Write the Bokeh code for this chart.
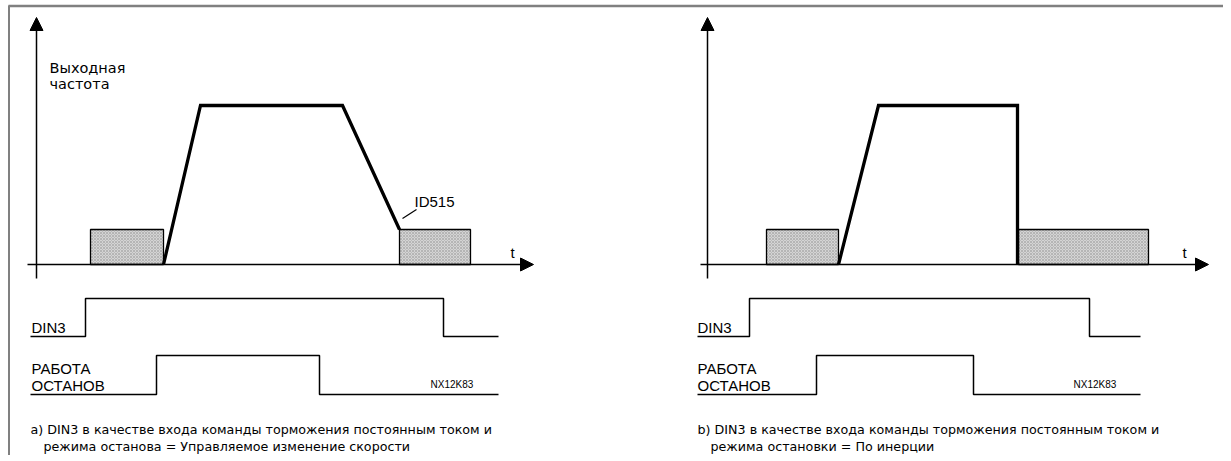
from bokeh.plotting import figure
from bokeh.models import Range1d, Arrow, NormalHead
from bokeh.core.properties import value
from bokeh.embed import file_html
from bokeh.resources import INLINE

FONT = "Liberation Sans"
FONT2 = "DejaVu Sans"

# ---- diagram data (page pixel coordinates, y grows downward) ----
panel_axis_x = [36, 707]
axis_y0 = 264          # time axis level
axis_top = 17          # arrow tip of frequency axis
axis_bottom = 278
xaxis_start = [27, 700]
xaxis_end = [533, 1208]

# output-frequency profile, panel a (controlled ramp) and b (coasting)
freq_a_x = [163, 200, 342, 399]
freq_a_y = [264, 105, 105, 229]
freq_b_x = [838, 878, 1017, 1017]
freq_b_y = [264, 105, 105, 264]

# DC brake boxes
brake_left = [90, 399, 766, 1018]
brake_right = [163, 470, 838, 1148]
brake_top = [229, 229, 229, 229]
brake_bottom = [264, 264, 264, 264]

# DIN3 signal steps
din3_a_x = [30, 85, 85, 443, 443, 498]
din3_b_x = [697, 749, 749, 1089, 1089, 1140]
din3_y = [336, 336, 298, 298, 336, 336]

# RUN/STOP signal steps
run_a_x = [30, 156, 156, 319, 319, 498]
run_b_x = [697, 816, 816, 973, 973, 1140]
run_y = [394, 394, 355, 355, 394, 394]

label_x = [31, 697]
caption_x = [30, 697]
caption2_x = [43, 710]
code_x = [430, 1073]
t_x = [510, 1182]

captions1 = ["a) DIN3 в качестве входа команды торможения постоянным током и",
             "b) DIN3 в качестве входа команды торможения постоянным током и"]
captions2 = ["режима останова = Управляемое изменение скорости",
             "режима остановки = По инерции"]

W, H = 1223, 455
p = figure(width=W, height=H, output_backend="svg", toolbar_location=None,
           x_range=Range1d(0, W), y_range=Range1d(H, 0),
           min_border=0)
p.axis.visible = False
p.grid.visible = False
p.outline_line_color = None
p.background_fill_color = "white"

# frame (top and left)
p.line([8, 1223], [5.5, 5.5], line_color="#808080", line_width=2.5)
p.line([8.5, 8.5], [5, 455], line_color="#808080", line_width=2)

# brake boxes
p.quad(left=brake_left, right=brake_right, top=brake_top, bottom=brake_bottom,
       fill_color="#d4d4d4", hatch_pattern="diagonal_cross", hatch_color="#969696",
       hatch_scale=3, hatch_weight=0.5, line_color="black", line_width=1.3)

for i in range(2):
    ax = panel_axis_x[i]
    p.line([ax, ax], [axis_bottom, axis_top + 10], line_color="black", line_width=1.5)
    p.add_layout(Arrow(end=NormalHead(size=13, fill_color="black", line_color="black"),
                       x_start=ax, y_start=axis_top + 12, x_end=ax, y_end=axis_top,
                       line_color="black", line_width=1.5))
    p.line([xaxis_start[i], xaxis_end[i] - 10], [axis_y0, axis_y0], line_color="black", line_width=1.5)
    p.add_layout(Arrow(end=NormalHead(size=13, fill_color="black", line_color="black"),
                       x_start=xaxis_end[i] - 12, y_start=axis_y0, x_end=xaxis_end[i], y_end=axis_y0,
                       line_color="black", line_width=1.5))
    p.text(x=[t_x[i]], y=[252], text=["t"], text_font=value(FONT), text_font_size="15px",
           text_baseline="alphabetic", text_color="black")

# frequency profiles
p.line(freq_a_x, freq_a_y, line_color="black", line_width=3.3, line_join="miter")
p.line(freq_b_x, freq_b_y, line_color="black", line_width=3.3, line_join="miter")

# signals
for xs in (din3_a_x, din3_b_x):
    p.line(xs, din3_y, line_color="black", line_width=1.5)
for xs in (run_a_x, run_b_x):
    p.line(xs, run_y, line_color="black", line_width=1.5)

# labels
p.text(x=[49, 49], y=[67, 83], text=["Выходная", "частота"], text_font=value(FONT2),
       text_font_size="14.5px", text_baseline="alphabetic", text_color="black")
p.line([402, 416], [218, 209], line_color="black", line_width=1.2)
p.text(x=[414], y=[201], text=["ID515"], text_font=value(FONT), text_font_size="15px",
       text_baseline="alphabetic", text_color="black")

for i in range(2):
    p.text(x=[label_x[i]] * 3, y=[327, 368, 385], text=["DIN3", "РАБОТА", "ОСТАНОВ"],
           text_font=value(FONT), text_font_size="15px", text_baseline="alphabetic",
           text_color="black")
    p.text(x=[code_x[i]], y=[384], text=["NX12K83"], text_font=value(FONT),
           text_font_size="10px", text_baseline="alphabetic", text_color="black")
    p.text(x=[caption_x[i]], y=[429], text=[captions1[i]], text_font=value(FONT2),
           text_font_size="12.7px", text_baseline="alphabetic", text_color="black")
    p.text(x=[caption2_x[i]], y=[446], text=[captions2[i]], text_font=value(FONT2),
           text_font_size="12.7px", text_baseline="alphabetic", text_color="black")

open("out.html", "w").write(file_html(p, INLINE))
